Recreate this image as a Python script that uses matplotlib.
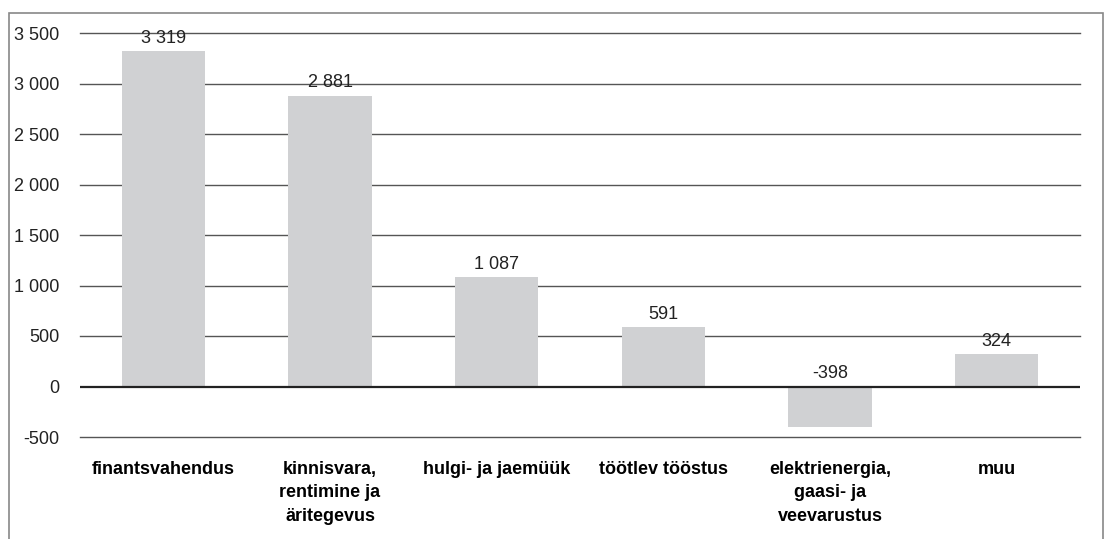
import matplotlib
matplotlib.use("Agg")
import matplotlib.pyplot as plt
from matplotlib.patches import Rectangle
from matplotlib.ticker import FuncFormatter

categories = ["finantsvahendus", "kinnisvara,\nrentimine ja\näritegevus", "hulgi- ja jaemüük",
              "töötlev tööstus", "elektrienergia,\ngaasi- ja\nveevarustus", "muu"]
values = [3319, 2881, 1087, 591, -398, 324]
yticks = [-500, 0, 500, 1000, 1500, 2000, 2500, 3000, 3500]

plt.rcParams['font.family'] = ['Liberation Sans', 'DejaVu Sans']

W, H = 1105, 539
fig = plt.figure(figsize=(W / 100, H / 100), dpi=100)
ax = fig.add_axes([80 / W, 1 - 437 / H, 1000 / W, (437 - 33) / H])

def fmt(v):
    s = f"{abs(int(v)):,}".replace(",", " ")
    return ("-" if v < 0 else "") + s

x = list(range(len(categories)))
ax.bar(x, values, width=0.5, color="#d0d1d3", zorder=2)
ax.set_xlim(-0.5, len(categories) - 0.5)
ax.set_ylim(-500, 3500)
ax.set_yticks(yticks)
ax.yaxis.set_major_formatter(FuncFormatter(lambda v, p: fmt(v)))
for t in yticks:
    if t == 0:
        ax.axhline(t, color="#222222", lw=1.6, zorder=3)
    else:
        ax.axhline(t, color="#555555", lw=1.0, zorder=1, clip_on=False)

for xi, v in zip(x, values):
    ax.annotate(fmt(v), (xi, max(v, 0)), xytext=(0, 3), textcoords="offset points",
                ha="center", va="bottom", fontsize=13, color="#222222", zorder=4)

ax.set_xticks(x)
ax.set_xticklabels(categories, fontsize=13, fontweight="bold", linespacing=1.5,
                   multialignment="center", va="top")
ax.tick_params(axis="x", length=0, pad=17)
ax.tick_params(axis="y", length=0, pad=15, labelsize=13)
for lbl in ax.get_yticklabels():
    lbl.set_color("#222222")
for s in ax.spines.values():
    s.set_visible(False)

fig.add_artist(Rectangle((9 / W, -0.1), (1103 - 9) / W, 1.1 - 13 / H,
                         transform=fig.transFigure, fill=False, edgecolor="#888888", lw=1.2))

fig.savefig("out.png", dpi=100)
